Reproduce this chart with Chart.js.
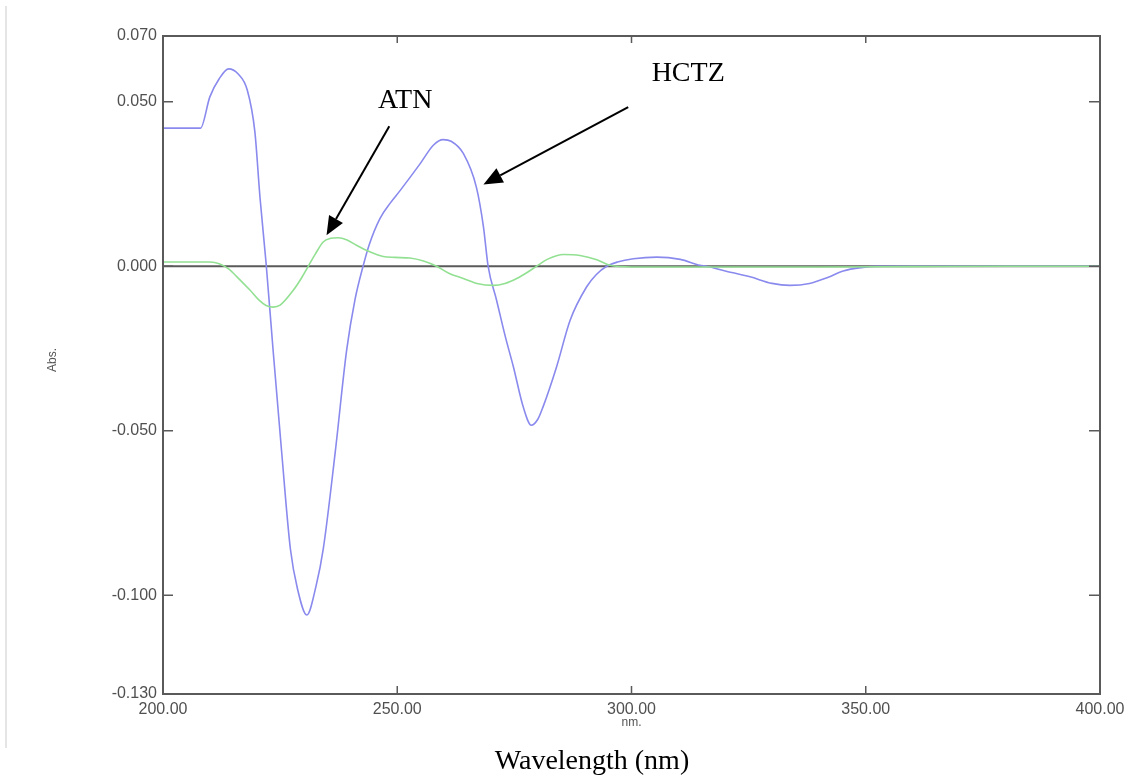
<!DOCTYPE html>
<html>
<head>
<meta charset="utf-8">
<script src="https://cdn.jsdelivr.net/npm/chart.js@4.4.1/dist/chart.umd.min.js"></script>
<style>
html,body{margin:0;padding:0;background:#fff;}
#wrap{width:1124px;height:784px;position:relative;}
</style>
</head>
<body>
<div id="wrap"><canvas id="c" width="1124" height="784"></canvas></div>
<script>
// ---- data ----
const hctzWavelength = [200,204,208,210,212,214,216,218,219.6,220.7,222,223.5,225.3,227.2,228.7,230.7,232.7,234.2,236.8,239.2,241,242.7,244,246.3,248.5,250.6,254.9,257.7,259.8,261.5,264.1,266.9,268.4,269.4,271.2,273,274.8,276.9,278.6,280,281.1,284,286.9,290.4,292.5,294.7,297,300.4,305.4,310.4,314.6,316,320,325.3,330,333.8,338,342,345.2,349,353,360,380,400];
const hctzAbs = [0.042,0.042,0.042,0.0515,0.057,0.060,0.0585,0.0535,0.041,0.021,0.001,-0.0255,-0.056,-0.086,-0.098,-0.106,-0.097,-0.086,-0.056,-0.0255,-0.010,0,0.0065,0.0145,0.0192,0.023,0.0312,0.0368,0.0385,0.038,0.0343,0.024,0.012,0,-0.0103,-0.021,-0.0306,-0.0428,-0.0483,-0.0465,-0.0428,-0.0306,-0.0164,-0.0063,-0.0025,0,0.0013,0.0023,0.0028,0.0021,0.0003,0,-0.0014,-0.0032,-0.0052,-0.0058,-0.0052,-0.0033,-0.0014,-0.0004,0,0,0,0];
const atnWavelength = [200,206,210,212,214,216,218.6,220.5,222,223.5,225,227.8,229.5,231,232.5,234.2,235.8,237.4,239.3,241.3,244,247,249.5,252.7,255.6,258.4,261,264.1,267,270.5,273,275.5,277.8,279.7,282,285.5,289,292.6,295.4,300,320,340,360,380,400];
const atnAbs = [0.0013,0.0013,0.0013,0.0008,-0.0008,-0.0035,-0.0073,-0.0103,-0.0119,-0.0124,-0.0118,-0.0073,-0.0037,0,0.0037,0.0074,0.0085,0.0087,0.0080,0.0064,0.0045,0.003,0.0027,0.0025,0.0016,0,-0.0021,-0.0037,-0.0052,-0.0058,-0.0052,-0.0037,-0.0018,0,0.0021,0.0036,0.0033,0.002,0.0003,-0.0002,-0.0002,-0.0002,-0.0001,0,0];
const seriesNames = ['HCTZ','ATN'];
const xTickValues = [200,250,300,350,400];
const yTickValues = [0.070,0.050,0.000,-0.050,-0.100,-0.130];

// annotation placement (data units)
const notes = [
  {text:'ATN',  x:251.7, y:0.0505, from:[248.3,0.0426], to:[234.9,0.0094]},
  {text:'HCTZ', x:312.1, y:0.0587, from:[299.3,0.0484], to:[268.4,0.0249]}
];

const toPts = (xs, ys) => xs.map((v,i)=>({x:v, y:ys[i]}));

const framePlugin = {
  id:'framePlugin',
  beforeDatasetsDraw(chart){
    const {ctx, chartArea:a, scales:{y}} = chart;
    const y0 = y.getPixelForValue(0);
    ctx.save();
    ctx.strokeStyle='#5a5a5a'; ctx.lineWidth=2;
    ctx.beginPath(); ctx.moveTo(a.left,y0); ctx.lineTo(a.right,y0); ctx.stroke();
    ctx.restore();
  },
  afterDraw(chart){
    const {ctx, chartArea:a, scales:{x,y}} = chart;
    ctx.save();
    // page edge line
    ctx.strokeStyle='#dcdcdc'; ctx.lineWidth=1.5;
    ctx.beginPath(); ctx.moveTo(6,6); ctx.lineTo(6,748); ctx.stroke();
    // frame
    ctx.strokeStyle='#5a5a5a'; ctx.lineWidth=2;
    ctx.strokeRect(a.left, a.top, a.right-a.left, a.bottom-a.top);
    // inward ticks
    ctx.lineWidth=1.5;
    ctx.beginPath();
    xTickValues.slice(1,-1).forEach(v=>{
      const px = x.getPixelForValue(v);
      ctx.moveTo(px,a.bottom); ctx.lineTo(px,a.bottom-8);
      ctx.moveTo(px,a.top); ctx.lineTo(px,a.top+7);
    });
    yTickValues.slice(1,-1).forEach(v=>{
      const py = y.getPixelForValue(v);
      ctx.moveTo(a.left,py); ctx.lineTo(a.left+10,py);
      ctx.moveTo(a.right,py); ctx.lineTo(a.right-11,py);
    });
    ctx.stroke();
    // small axis captions
    ctx.fillStyle='#555';
    ctx.font='12px "Liberation Sans", Arial, sans-serif';
    ctx.textAlign='center'; ctx.textBaseline='middle';
    ctx.fillText('nm.', (a.left+a.right)/2, 723);
    ctx.save();
    ctx.translate(53, 360); ctx.rotate(-Math.PI/2);
    ctx.fillText('Abs.', 0, 0);
    ctx.restore();
    // big axis title
    ctx.fillStyle='#000';
    ctx.font='28px "Liberation Serif", "Times New Roman", serif';
    ctx.fillText('Wavelength (nm)', 592, 762);
    // annotations
    notes.forEach(n=>{
      ctx.fillStyle='#000';
      ctx.font='28px "Liberation Serif", "Times New Roman", serif';
      ctx.textAlign='center'; ctx.textBaseline='middle';
      ctx.fillText(n.text, x.getPixelForValue(n.x), y.getPixelForValue(n.y));
      const x1 = x.getPixelForValue(n.from[0]), y1 = y.getPixelForValue(n.from[1]);
      const x2 = x.getPixelForValue(n.to[0]), y2 = y.getPixelForValue(n.to[1]);
      const ang = Math.atan2(y2-y1, x2-x1);
      const L = 19, W = 8;
      const bx = x2 - L*Math.cos(ang), by = y2 - L*Math.sin(ang);
      ctx.strokeStyle='#000'; ctx.lineWidth=2;
      ctx.beginPath(); ctx.moveTo(x1,y1); ctx.lineTo(bx,by); ctx.stroke();
      ctx.beginPath();
      ctx.moveTo(x2,y2);
      ctx.lineTo(bx + W*Math.sin(ang), by - W*Math.cos(ang));
      ctx.lineTo(bx - W*Math.sin(ang), by + W*Math.cos(ang));
      ctx.closePath(); ctx.fill();
    });
    ctx.restore();
  }
};

new Chart(document.getElementById('c'), {
  type:'line',
  data:{
    datasets:[
      {label:seriesNames[1], data:toPts(atnWavelength, atnAbs), borderColor:'#92e092', borderWidth:1.6, pointRadius:0, cubicInterpolationMode:'monotone', fill:false},
      {label:seriesNames[0], data:toPts(hctzWavelength, hctzAbs), borderColor:'#8a8aee', borderWidth:1.6, pointRadius:0, cubicInterpolationMode:'monotone', fill:false}
    ]
  },
  options:{
    responsive:false,
    animation:false,
    events:[],
    layout:{padding:{left:0, right:24, top:36, bottom:0}},
    plugins:{legend:{display:false}, tooltip:{enabled:false}},
    scales:{
      x:{
        type:'linear', min:200, max:400,
        grid:{display:false, drawTicks:false},
        border:{display:false},
        afterBuildTicks(s){ s.ticks = xTickValues.map(v=>({value:v})); },
        afterFit(s){ s.height = 90; s.paddingLeft = 0; s.paddingRight = 0; },
        ticks:{
          padding:6, color:'#505050', maxRotation:0, autoSkip:false,
          font:{family:'"Liberation Sans", Arial, sans-serif', size:16},
          callback:v=>Number(v).toFixed(2)
        }
      },
      y:{
        type:'linear', min:-0.13, max:0.07,
        grid:{display:false, drawTicks:false},
        border:{display:false},
        afterBuildTicks(s){ s.ticks = yTickValues.map(v=>({value:v})); },
        afterFit(s){ s.width = 163; s.paddingTop = 0; s.paddingBottom = 0; },
        ticks:{
          padding:6, color:'#505050', autoSkip:false,
          font:{family:'"Liberation Sans", Arial, sans-serif', size:16},
          callback:v=>Number(v).toFixed(3)
        }
      }
    }
  },
  plugins:[framePlugin]
});
</script>
</body>
</html>
